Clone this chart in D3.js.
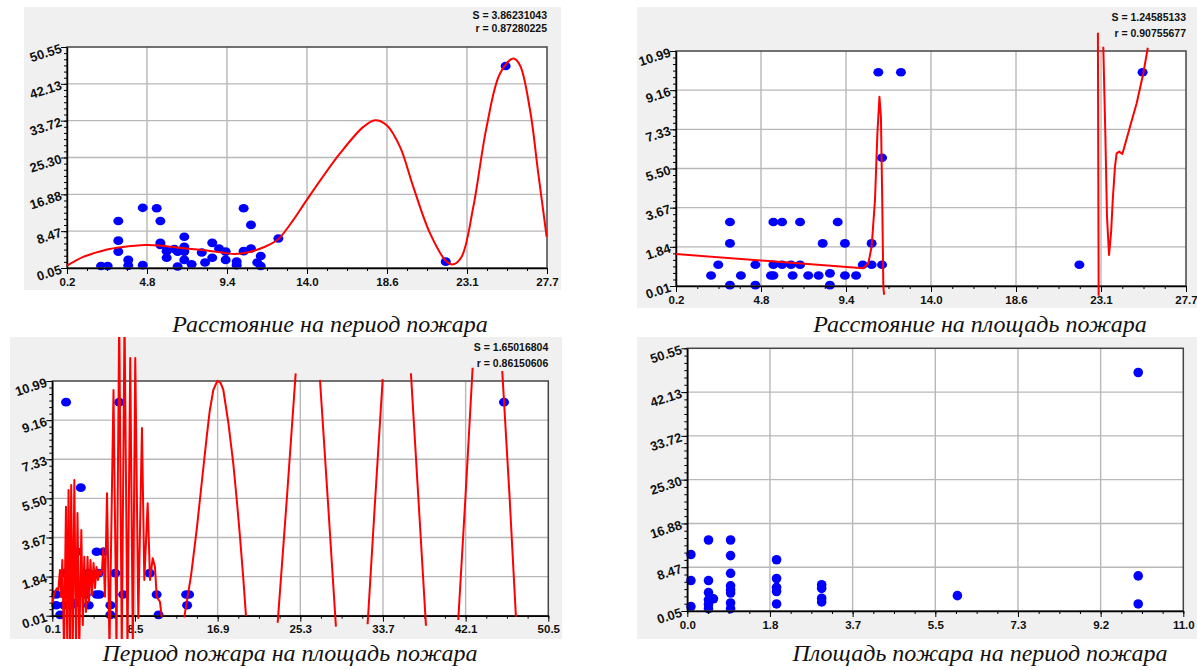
<!DOCTYPE html>
<html>
<head>
<meta charset="utf-8">
<script src="https://cdn.jsdelivr.net/npm/d3@7"></script>
<style>
body { margin: 0; background: #fff; }
svg text { font-family: "Liberation Sans", Arial, sans-serif; }
.tick-lbl { font-weight: bold; font-size: 11.5px; fill: #111; }
.ytick-lbl { font-weight: bold; font-size: 13px; fill: #111; }
.stats { font-weight: bold; font-size: 10.5px; fill: #111; }
.caption { font-family: "Liberation Serif", "Times New Roman", serif; font-style: italic; font-size: 24px; fill: #111; }
</style>
</head>
<body>
<svg id="chart" width="1197" height="670"></svg>
<script>
// tick labels (evenly spaced between the axis ends)
var distTicks = ["0.2", "4.8", "9.4", "14.0", "18.6", "23.1", "27.7"];
var periodTicks = ["0.05", "8.47", "16.88", "25.30", "33.72", "42.13", "50.55"];
var areaTicks = ["0.01", "1.84", "3.67", "5.50", "7.33", "9.16", "10.99"];
var periodXTicks = ["0.1", "8.5", "16.9", "25.3", "33.7", "42.1", "50.5"];
var areaXTicks = ["0.0", "1.8", "3.7", "5.5", "7.3", "9.2", "11.0"];

var captions = ["Расстояние на период пожара", "Расстояние на площадь пожара",
                "Период пожара на площадь пожара", "Площадь пожара на период пожара"];
var statsDistPeriod = ["S = 3.86231043", "r = 0.87280225"];
var statsDistArea = ["S = 1.24585133", "r = 0.90755677"];
var statsPeriodArea = ["S = 1.65016804", "r = 0.86150606"];

// distance vs period
var distPeriodX = [2.15,2.53,3.14,3.14,3.14,3.71,3.71,4.54,4.54,5.34,5.55,5.55,5.55,5.91,5.91,6.35,6.54,6.54,
  6.92,6.92,6.92,6.92,7.34,7.92,8.11,8.52,8.52,8.91,9.29,9.29,9.92,9.92,10.32,10.32,10.74,10.74,11.30,11.10,11.30,
  12.31,21.90,25.33];
var distPeriodY = [0.5,0.5,10.8,6.3,3.8,1.9,0.6,13.8,0.7,13.7,10.8,5.8,5.3,3.9,2.4,4.4,3.8,0.4,
  7.2,4.9,3.8,1.9,0.9,3.6,1.3,5.8,2.4,4.5,3.8,1.9,1.5,0.7,13.7,3.9,9.9,4.5,2.8,1.3,0.5,
  6.8,1.5,46.2];
var distPeriodFitX = [0.2,1.13,1.8,2.5,3.3,4.67,5.63,6.77,7.92,9.06,9.82,10.59,11.54,12.12,12.4,13.16,13.93,15.84,
  17.18,17.85,18.52,19.28,20.04,21.0,21.95,22.33,22.81,23.48,24.24,25.01,25.77,26.15,26.73,27.2,27.68];
var distPeriodFitY = [0.6,2.6,3.5,4.3,4.8,5.3,5.15,4.6,4.16,3.6,3.25,3.63,4.91,6.1,7.0,11.0,15.57,26.23,
  32.3,33.82,32.68,27.73,18.6,7.97,1.49,0.89,2.63,14.04,32.3,44.48,47.9,46.38,36.1,21.66,7.19];

// distance vs area
var distAreaX = [2.09,2.48,3.11,3.11,3.11,3.70,4.48,4.48,5.32,5.45,5.45,5.45,5.92,5.92,6.40,6.49,6.89,6.89,7.33,7.89,
  8.11,8.50,8.50,8.92,9.31,9.31,9.91,10.27,10.75,10.75,11.11,11.31,11.31,12.33,21.95,25.36];
var distAreaY = [0.5,1,3,2,0.05,0.5,1,0.05,0.5,0.5,1,3,3,1,1,0.5,3,1,0.5,0.5,
  2,0.6,0.05,3,2,0.5,0.5,1,2,1,10,1,6,10,1,10];
var distAreaFitX = [0.2,10.3,10.57,10.75,10.93,11.06,11.17,11.25,11.32,11.38,11.42,null,22.95,22.99,null,
  23.24,23.35,23.44,23.55,23.66,23.75,23.87,23.96,24.1,24.27,24.68,25.04,25.4,25.64];
var distAreaFitY = [1.5,0.84,1.07,1.85,4.03,7.14,8.85,7.92,4.03,-0.02,-0.4,null,11.84,-0.45,null,
  11.19,7.14,3.25,1.46,2.5,4.03,5.59,6.21,6.29,6.18,7.45,8.55,9.95,11.14];

// period vs area
var periodAreaX = [0.9,6.0,10.9, 0.5,1.3,2.0,3.8,6.0,13.8, 2.4, 0.5,1.6,3.5,4.6,4.9,7.3,10.7,13.7,14.0,
  1.4,3.8,4.8,6.5,10.0, 1.9,2.6,4.6,5.3, 3.0, 1.5,6.9,46.0];
var periodAreaY = [0.05,0.05,0.05, 0.5,0.5,0.5,0.5,0.5,0.5, 0.6, 1,1,1,1,1,1,1,1,1,
  2,2,2,2,2, 3,3,3,3, 6, 10,10,10];
var periodAreaFitX = [0.10,0.30,0.55,0.71,0.88,1.00,1.12,1.29,1.49,1.62,1.75,1.90,2.02,2.18,2.34,2.51,2.66,2.84,
  3.05,3.20,3.35,3.52,3.68,3.83,3.98,4.13,4.29,4.44,4.59,4.74,4.88,5.05,5.15,5.28,5.45,5.66,5.91,6.32,6.62,6.90,
  7.16,7.44,7.74,8.02,8.28,8.53,8.84,9.21,9.45,9.79,10.03,10.30,10.53,10.71,11.04,11.22, null,
  13.51,14.2,14.77,15.3,15.79,16.1,16.46,16.87,17.2,17.48,18.0,18.49,18.85,19.17,19.5,19.78, null,
  23.0,23.95,24.83, null, 27.30,28.1,28.92, null,
  32.14,32.9,33.67, null, 36.54,37.3,38.07, null, 41.35,42.1,42.81, null, 45.82,46.55,47.21];
var periodAreaFitY = [0.59,1.06,1.29,1.21,2.15,0.88,2.62,-1.5,5.11,-1.5,5.89,-1.5,6.12,-1.5,6.36,-1.5,4.81,-1.5,
  4.02,-0.43,2.77,0.18,2.77,0.65,2.62,0.98,2.48,1.31,2.29,1.68,2.15,1.91,2.15,3.16,0.90,5.74,-1.5,10.57,-1.5,14,
  -1.5,14,-1.5,12.07,-1.5,12.07,-0.10,8.79,1.68,5.27,1.68,2.70,2.30,0.90,0.66,-0.04, null,
  -0.07,1.9,4.02,6.3,8.38,9.6,10.57,11.0,10.9,10.57,9.0,7.14,5.4,3.71,1.8,0.0, null,
  -0.32,5.6,11.35, null, 11.04,5.4,-0.5, null,
  -0.39,5.4,11.08, null, 11.35,5.5,-0.46, null, -0.19,5.7,11.61, null, 11.46,5.7,-0.04];

// area vs period
var areaPeriodX = [0.08,0.08,0.08, 0.47,0.47,0.47,0.47,0.47,0.47, 0.58, 0.96,0.96,0.96,0.96,0.96,0.96,0.96,0.96,
  1.98,1.98,1.98,1.98,1.98, 2.98,2.98,2.98,2.98, 5.99, 10.0,10.0,10.0];
var areaPeriodY = [10.9,5.9,0.9, 13.7,5.9,3.6,2.2,1.3,0.5, 2.4, 13.7,10.7,7.3,4.9,4.1,3.5,1.6,0.5,
  9.9,6.3,4.6,3.8,1.4, 5.1,4.4,2.5,1.8, 3.0, 45.9,6.8,1.4];

var svg = d3.select("#chart");

var panels = [
  { bg: [24, 7, 561, 290], plot: [67, 47, 547, 268], xDom: [0.2, 27.7], yDom: [0.05, 50.55],
    xLabels: distTicks, yLabels: periodTicks, ptsX: distPeriodX, ptsY: distPeriodY,
    fitX: distPeriodFitX, fitY: distPeriodFitY, smooth: true, stats: statsDistPeriod, statsY: [18.5, 32],
    caption: captions[0], capPos: [330, 332], rx: 5, ry: 4.3 },
  { bg: [637, 7, 1197, 308], plot: [676, 51, 1186, 286], xDom: [0.2, 27.7], yDom: [0.01, 10.99],
    xLabels: distTicks, yLabels: areaTicks, ptsX: distAreaX, ptsY: distAreaY,
    fitX: distAreaFitX, fitY: distAreaFitY, smooth: false, stats: statsDistArea, statsY: [20.5, 36.5],
    caption: captions[1], capPos: [980, 332], rx: 5, ry: 4.3 },
  { bg: [10, 337, 562, 639], plot: [52.3, 381, 548.3, 615.7], xDom: [0.1, 50.5], yDom: [0.01, 10.99],
    xLabels: periodXTicks, yLabels: areaTicks, ptsX: periodAreaX, ptsY: periodAreaY,
    fitX: periodAreaFitX, fitY: periodAreaFitY, smooth: false, stats: statsPeriodArea, statsY: [350.5, 366.5],
    caption: captions[2], capPos: [290, 661], rx: 5, ry: 4.3 },
  { bg: [637, 337, 1197, 639], plot: [687.3, 348.3, 1183.3, 611], xDom: [0, 11], yDom: [0.05, 50.55],
    xLabels: areaXTicks, yLabels: periodTicks, ptsX: areaPeriodX, ptsY: areaPeriodY,
    fitX: null, fitY: null, smooth: false, stats: null, statsY: null,
    caption: captions[3], capPos: [980, 661], rx: 4.8, ry: 4.8 }
];

function evenTicks(dom, n) {
  return d3.range(n + 1).map(function(i) { return dom[0] + i * (dom[1] - dom[0]) / n; });
}

function drawPanel(p, idx) {
  var L = p.plot[0], T = p.plot[1], R = p.plot[2], B = p.plot[3];
  var g = svg.append("g");

  g.append("rect")
    .attr("x", p.bg[0]).attr("y", p.bg[1])
    .attr("width", p.bg[2] - p.bg[0]).attr("height", p.bg[3] - p.bg[1])
    .attr("fill", "#f0f0f0");
  g.append("rect")
    .attr("x", L).attr("y", T).attr("width", R - L).attr("height", B - T)
    .attr("fill", "#fff");

  var x = d3.scaleLinear().domain(p.xDom).range([L, R]);
  var y = d3.scaleLinear().domain(p.yDom).range([B, T]);

  var nx = p.xLabels.length - 1, ny = p.yLabels.length - 1;
  var xMajor = evenTicks(p.xDom, nx), yMajor = evenTicks(p.yDom, ny);
  var xMinor = evenTicks(p.xDom, nx * 4), yMinor = evenTicks(p.yDom, ny * 6);

  // grid
  g.append("g").selectAll("line").data(xMajor.slice(1, -1)).join("line")
    .attr("x1", function(d) { return x(d); }).attr("x2", function(d) { return x(d); })
    .attr("y1", T).attr("y2", B)
    .attr("stroke", "#b8b8b8").attr("stroke-width", 1.4);
  g.append("g").selectAll("line").data(yMajor.slice(1, -1)).join("line")
    .attr("y1", function(d) { return y(d); }).attr("y2", function(d) { return y(d); })
    .attr("x1", L).attr("x2", R)
    .attr("stroke", "#b8b8b8").attr("stroke-width", 1.4);

  // points
  g.append("g").selectAll("ellipse").data(p.ptsX).join("ellipse")
    .attr("cx", function(d) { return x(d); })
    .attr("cy", function(d, i) { return y(p.ptsY[i]); })
    .attr("rx", p.rx).attr("ry", p.ry)
    .attr("fill", "#0000ff");

  // frame
  g.append("rect")
    .attr("x", L).attr("y", T).attr("width", R - L).attr("height", B - T)
    .attr("fill", "none").attr("stroke", "#444").attr("stroke-width", 1.5);

  // minor ticks
  g.append("g").attr("transform", "translate(0," + B + ")")
    .call(d3.axisBottom(x).tickValues(xMinor).tickSize(3).tickFormat(""))
    .call(function(s) { s.select(".domain").remove(); });
  g.append("g").attr("transform", "translate(" + L + ",0)")
    .call(d3.axisLeft(y).tickValues(yMinor).tickSize(3).tickFormat(""))
    .call(function(s) { s.select(".domain").remove(); });

  // major axes
  var xAxis = g.append("g").attr("transform", "translate(0," + B + ")")
    .call(d3.axisBottom(x).tickValues(xMajor).tickSize(6).tickSizeOuter(0)
      .tickFormat(function(d, i) { return p.xLabels[i]; }));
  xAxis.select(".domain").attr("stroke", "#000").attr("stroke-width", 1.5);
  xAxis.selectAll(".tick text").attr("class", "tick-lbl").attr("y", 9.5);

  var yAxis = g.append("g").attr("transform", "translate(" + L + ",0)")
    .call(d3.axisLeft(y).tickValues(yMajor).tickSize(6).tickSizeOuter(0)
      .tickFormat(function(d, i) { return p.yLabels[i]; }));
  yAxis.select(".domain").attr("stroke", "#000").attr("stroke-width", 1.5);
  yAxis.selectAll(".tick text").attr("class", "ytick-lbl")
    .attr("x", -6).attr("dy", "0.38em")
    .attr("transform", "rotate(-18,-6,0)");

  // fitted curve
  if (p.fitX) {
    var clipId = "clip" + idx;
    svg.append("clipPath").attr("id", clipId).append("rect")
      .attr("x", p.bg[0]).attr("y", p.bg[1])
      .attr("width", p.bg[2] - p.bg[0]).attr("height", p.bg[3] - p.bg[1]);
    var fit = p.fitX.map(function(v, i) { return [v, p.fitY[i]]; });
    var line = d3.line()
      .defined(function(d) { return d[0] != null && d[1] != null; })
      .x(function(d) { return x(d[0]); })
      .y(function(d) { return y(d[1]); })
      .curve(p.smooth ? d3.curveCatmullRom : d3.curveLinear);
    g.append("path").datum(fit)
      .attr("clip-path", "url(#" + clipId + ")")
      .attr("d", line)
      .attr("fill", "none").attr("stroke", "#ff0000").attr("stroke-width", 2)
      .attr("stroke-linejoin", "round");
  }

  // S and r
  if (p.stats) {
    g.selectAll(".stats").data(p.stats).join("text")
      .attr("class", "stats")
      .attr("x", R).attr("y", function(d, i) { return p.statsY[i]; })
      .attr("text-anchor", "end")
      .text(function(d) { return d; });
  }

  g.append("text").attr("class", "caption")
    .attr("x", p.capPos[0]).attr("y", p.capPos[1])
    .attr("text-anchor", "middle")
    .text(p.caption);
}

panels.forEach(drawPanel);
</script>
</body>
</html>
